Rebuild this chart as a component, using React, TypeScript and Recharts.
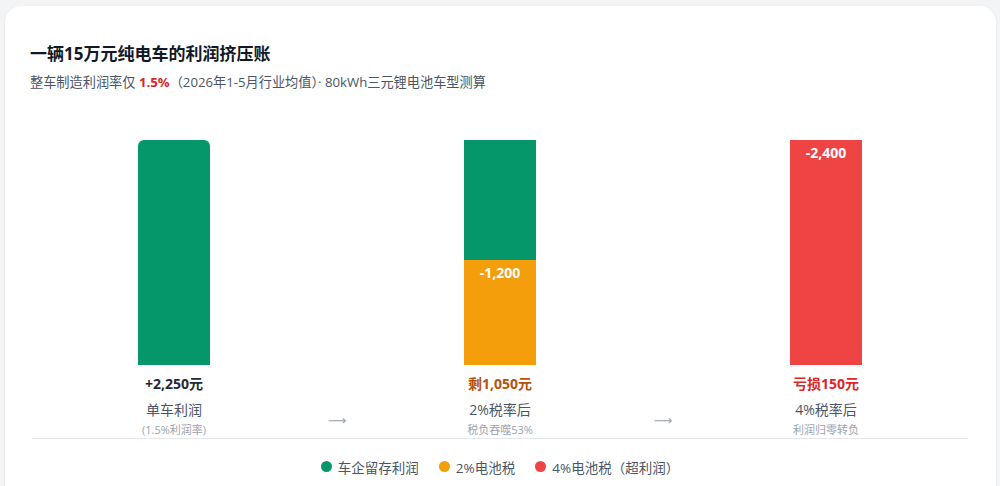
import React from 'react';
import { BarChart, Bar, XAxis, YAxis, Legend, LabelList, Cell } from 'recharts';

const stages = ['单车利润', '2%税率后', '4%税率后'];
const retained = [2250, 1200, 0];
const tax2 = [0, 1050, 0];
const tax4 = [0, 0, 2250];
const tax2Labels = ['', '-1,200', ''];
const tax4Labels = ['', '', '-2,400'];
const resultLabels = ['+2,250元', '剩1,050元', '亏损150元'];
const resultColors = ['#1f2937', '#b45309', '#dc2626'];
const notes = ['(1.5%利润率)', '税负吞噬53%', '利润归零转负'];
const legendNames = ['车企留存利润', '2%电池税', '4%电池税（超利润）'];
const legendColors = ['#059669', '#f59e0b', '#ef4444'];

const data = stages.map((s, i) => ({
  stage: s,
  retained: retained[i],
  tax2: tax2[i],
  tax4: tax4[i],
  tax2Label: tax2Labels[i],
  tax4Label: tax4Labels[i],
}));

const FONT = "'Open Sans','Noto Sans CJK SC',sans-serif";

const StageTick = (props: any) => {
  const { x, y, payload, index } = props;
  const i = index ?? stages.indexOf(payload.value);
  return (
    <g>
      <text x={x} y={y + 24} textAnchor="middle" fontSize={14} fontWeight={700} fill={resultColors[i]} fontFamily={FONT}>
        {resultLabels[i]}
      </text>
      <text x={x} y={y + 50} textAnchor="middle" fontSize={14} fill="#4b5563" fontFamily={FONT}>
        {payload.value}
      </text>
      <text x={x} y={y + 69} textAnchor="middle" fontSize={11} fill="#9ca3af" fontFamily={FONT}>
        {notes[i]}
      </text>
      {i < stages.length - 1 && (
        <text x={x + 163} y={y + 60} textAnchor="middle" fontSize={13} fill="#9ca3af" fontFamily="'DejaVu Sans'">
          ⟶
        </text>
      )}
    </g>
  );
};

const LegendContent = () => (
  <div
    style={{
      margin: '0 21px',
      height: 48,
      boxSizing: 'border-box',
      borderTop: '1.5px solid #e5e7eb',
      paddingTop: 8,
      display: 'flex',
      justifyContent: 'center',
      alignItems: 'center',
      gap: 20,
      fontFamily: FONT,
      fontSize: 13.5,
      color: '#4b5563',
    }}
  >
    {legendNames.map((n, i) => (
      <div key={n} style={{ display: 'flex', alignItems: 'center', gap: 6 }}>
        <span style={{ width: 11, height: 11, borderRadius: '50%', background: legendColors[i], display: 'inline-block' }} />
        <span>{n}</span>
      </div>
    ))}
  </div>
);

export default function App() {
  return (
    <div style={{ position: 'relative', width: 1000, height: 486, background: '#f3f4f6', overflow: 'hidden', fontFamily: FONT }}>
      <style>{'body{margin:0}'}</style>
      <div
        style={{
          position: 'absolute',
          left: 5,
          top: 6,
          width: 991,
          height: 540,
          background: '#ffffff',
          borderRadius: 16,
          boxShadow: '0 1px 3px rgba(0,0,0,0.08)',
        }}
      />
      <div style={{ position: 'absolute', left: 30, top: 44, fontSize: 17, lineHeight: '20px', fontWeight: 700, color: '#111827' }}>
        一辆15万元纯电车的利润挤压账
      </div>
      <div style={{ position: 'absolute', left: 30, top: 72, fontSize: 13.2, lineHeight: '20px', color: '#4b5563', whiteSpace: 'nowrap' }}>
        整车制造利润率仅 <span style={{ color: '#dc2626', fontWeight: 700 }}>1.5%</span>（2026年1-5月行业均值）· 80kWh三元锂电池车型测算
      </div>
      <div style={{ position: 'absolute', left: 0, top: 0 }}>
        <BarChart width={1000} height={486} data={data} margin={{ top: 140, right: 11, bottom: 0, left: 11 }} barSize={72}>
          <XAxis dataKey="stage" axisLine={false} tickLine={false} tickSize={0} tickMargin={0} height={73} interval={0} tick={<StageTick />} />
          <YAxis hide domain={[0, 2250]} allowDataOverflow />
          <Legend verticalAlign="bottom" content={<LegendContent />} />
          <Bar dataKey="tax2" stackId="a" fill="#f59e0b" isAnimationActive={false}>
            <LabelList dataKey="tax2Label" position="insideTop" offset={8} fill="#ffffff" fontSize={14} fontWeight={700} fontFamily={FONT} />
          </Bar>
          <Bar dataKey="retained" stackId="a" fill="#059669" radius={[6, 6, 0, 0]} isAnimationActive={false}>
            {data.map((d, i) => (
              <Cell key={d.stage} fill="#059669" radius={i === 0 ? ([6, 6, 0, 0] as any) : 0} />
            ))}
          </Bar>
          <Bar dataKey="tax4" stackId="a" fill="#ef4444" isAnimationActive={false}>
            <LabelList dataKey="tax4Label" position="insideTop" offset={8} fill="#ffffff" fontSize={14} fontWeight={700} fontFamily={FONT} />
          </Bar>
        </BarChart>
      </div>
    </div>
  );
}
